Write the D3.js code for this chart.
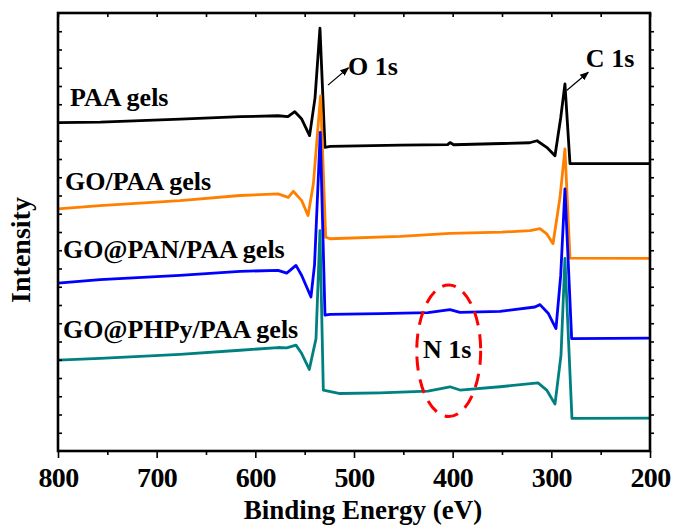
<!DOCTYPE html>
<html>
<head>
<meta charset="utf-8">
<script src="https://cdn.jsdelivr.net/npm/d3@7"></script>
<style>
  body { margin: 0; background: #fff; }
</style>
</head>
<body>
<div id="chart"></div>
<script>
// XPS survey spectra, [binding energy (eV), intensity (a.u.)]
const paaGels = [
    [800, 17.99], [757, 18.02], [676, 18.18], [615, 18.32], [577, 18.37], [567, 18.32],
    [560, 18.59], [553, 18.19], [545, 17.28], [539.5, 19.35], [534.5, 23.17], [529.4, 16.64],
    [524, 16.69], [453, 16.76], [405, 16.79], [402.7, 16.9], [399, 16.78], [350, 16.85],
    [322, 16.89], [314.5, 17.0], [304.7, 16.64], [296.3, 16.18], [290.5, 18.26], [286.2, 20.12],
    [281.1, 15.75], [200, 15.75]
]
const goPaaGels = [
    [800, 13.27], [757.4, 13.45], [676.4, 13.72], [615.5, 14.0], [577, 14.09], [566.6, 13.9],
    [561.5, 14.23], [553, 13.72], [546.6, 12.9], [541.2, 14.63], [533.9, 19.46], [528.7, 11.72],
    [524.3, 11.63], [453, 11.76], [402.7, 11.92], [350, 11.99], [321.6, 12.08], [311.5, 12.18],
    [304.7, 11.9], [298.3, 11.36], [291.2, 13.9], [286.2, 16.55], [281.1, 10.57], [200, 10.55]
]
const goPanPaaGels = [
    [800, 9.2], [757.4, 9.39], [676.4, 9.62], [615.5, 9.84], [577, 9.9], [568.2, 9.75],
    [558.8, 10.17], [553, 9.62], [543.6, 8.44], [540, 10.2], [534.2, 17.46], [529.4, 7.44],
    [524.3, 7.49], [473.6, 7.53], [425, 7.58], [402.7, 7.75], [392.6, 7.6], [352, 7.65],
    [316.6, 7.89], [311.5, 8.02], [303, 7.53], [295.3, 6.71], [290.5, 9.62], [286.2, 14.36],
    [279.4, 6.16], [200, 6.18]
]
const goPhpyPaaGels = [
    [800, 4.98], [757.4, 5.07], [676.4, 5.3], [615.5, 5.52], [577, 5.67], [568.2, 5.65],
    [558.8, 5.8], [553, 5.34], [545.3, 4.47], [538.5, 6.16], [534.5, 12.08], [531.1, 3.34],
    [514.2, 3.15], [473.6, 3.19], [425, 3.28], [402.7, 3.52], [392.6, 3.34], [352, 3.52],
    [313.5, 3.73], [304.7, 3.34], [296.3, 2.57], [290.2, 5.25], [286.2, 10.55], [279.1, 1.79],
    [200, 1.8]
]

const seriesNames = ["PAA gels", "GO/PAA gels", "GO@PAN/PAA gels", "GO@PHPy/PAA gels"]
const seriesColors = ["#000000", "#ff8000", "#0000ff", "#008080"]
// label anchor: [energy, intensity]
const seriesLabelPos = [[787.8, 18.9], [792.9, 14.3], [795, 10.6], [795, 6.2]]

const xMajorTicks = [800, 700, 600, 500, 400, 300, 200]
const xMinorTicks = [750, 650, 550, 450, 350, 250]
const yTicks = d3.range(1, 24)

// peak annotations: text, text anchor, arrow start, arrow end
const peakLabels = [
    { text: "O 1s", at: [506, 20.6], from: [526.4, 20.05], to: [505.6, 21.0] },
    { text: "C 1s", at: [265, 21.05], from: [284.5, 19.75], to: [262.6, 20.75] }
]
const n1s = { text: "N 1s", at: [430, 5.1], center: [404, 5.49], rx: 32.4, ry: 3.6 }

const width = 673, height = 529
const margin = { top: 13, right: 23, bottom: 78, left: 58 }
const serif = "'Liberation Serif', 'Times New Roman', Times, serif"

const svg = d3.select("#chart").append("svg")
    .attr("width", width)
    .attr("height", height)
    .attr("font-family", serif)
    .attr("font-weight", "bold")

const defs = svg.append("defs")
defs.append("marker")
    .attr("id", "arrow")
    .attr("viewBox", "0 0 10 10")
    .attr("refX", 9).attr("refY", 5)
    .attr("markerWidth", 9).attr("markerHeight", 9)
    .attr("markerUnits", "userSpaceOnUse")
    .attr("orient", "auto")
    .append("path")
    .attr("d", "M0,1 L10,5 L0,9 Z")
    .attr("fill", "#000")

//scale functions
const x = d3.scaleLinear()
    .domain([800, 200])
    .range([margin.left, width - margin.right])

const y = d3.scaleLinear()
    .domain([0, 24])
    .range([height - margin.bottom, margin.top])

const line = d3.line()
    .x(d => x(d[0]))
    .y(d => y(d[1]))

// spectra
const allSeries = [paaGels, goPaaGels, goPanPaaGels, goPhpyPaaGels]
svg.append("g")
    .selectAll("path")
    .data(allSeries)
    .enter()
    .append("path")
    .attr("d", line)
    .attr("fill", "none")
    .attr("stroke", (d, i) => seriesColors[i])
    .attr("stroke-width", 2.8)
    .attr("stroke-linejoin", "round")

// series labels
svg.append("g")
    .selectAll("text")
    .data(seriesNames)
    .enter()
    .append("text")
    .attr("x", (d, i) => x(seriesLabelPos[i][0]))
    .attr("y", (d, i) => y(seriesLabelPos[i][1]))
    .attr("font-size", 26)
    .attr("fill", "#000")
    .text(d => d)

// peak labels and arrows
peakLabels.forEach(p => {
    svg.append("line")
        .attr("x1", x(p.from[0])).attr("y1", y(p.from[1]))
        .attr("x2", x(p.to[0])).attr("y2", y(p.to[1]))
        .attr("stroke", "#000")
        .attr("stroke-width", 1.2)
        .attr("marker-end", "url(#arrow)")
    svg.append("text")
        .attr("x", x(p.at[0]))
        .attr("y", y(p.at[1]))
        .attr("font-size", 26)
        .text(p.text)
})

svg.append("ellipse")
    .attr("cx", x(n1s.center[0]))
    .attr("cy", y(n1s.center[1]))
    .attr("rx", Math.abs(x(n1s.center[0] + n1s.rx) - x(n1s.center[0])))
    .attr("ry", Math.abs(y(n1s.center[1] + n1s.ry) - y(n1s.center[1])))
    .attr("fill", "none")
    .attr("stroke", "#ff0000")
    .attr("stroke-width", 3)
    .attr("stroke-dasharray", "14 9")

svg.append("text")
    .attr("x", x(n1s.at[0]))
    .attr("y", y(n1s.at[1]))
    .attr("font-size", 26)
    .text(n1s.text)

// axes
const plotLeft = margin.left, plotRight = width - margin.right
const plotTop = margin.top, plotBottom = height - margin.bottom

const xAxis = d3.axisBottom(x)
    .tickValues(xMajorTicks)
    .tickSize(7)
    .tickPadding(9)
    .tickFormat(d3.format("d"))

const gx = svg.append("g")
    .attr("class", "x axis")
    .attr("transform", "translate(0," + plotBottom + ")")
    .call(xAxis)
    .attr("font-family", serif)
gx.selectAll("text")
    .attr("font-size", 28)
    .attr("letter-spacing", -0.6)
    .attr("fill", "#000")

svg.append("g")
    .attr("transform", "translate(0," + plotBottom + ")")
    .call(d3.axisBottom(x).tickValues(xMinorTicks).tickSize(4).tickFormat(""))

svg.append("g")
    .attr("transform", "translate(0," + plotTop + ")")
    .call(d3.axisTop(x).tickValues(xMajorTicks.concat(xMinorTicks)).tickSize(-4).tickFormat(""))

svg.append("g")
    .attr("transform", "translate(" + plotLeft + ",0)")
    .call(d3.axisLeft(y).tickValues(yTicks).tickSize(-4).tickFormat(""))

svg.append("g")
    .attr("transform", "translate(" + plotRight + ",0)")
    .call(d3.axisRight(y).tickValues(yTicks).tickSize(4).tickFormat(""))

svg.selectAll(".domain").remove()
svg.selectAll(".tick line")
    .attr("stroke", "#000")
    .attr("stroke-width", 1.6)

// frame
svg.append("rect")
    .attr("x", plotLeft)
    .attr("y", plotTop)
    .attr("width", plotRight - plotLeft)
    .attr("height", plotBottom - plotTop)
    .attr("fill", "none")
    .attr("stroke", "#000")
    .attr("stroke-width", 2.6)

// axis titles
svg.append("text")
    .attr("x", 363)
    .attr("y", 519)
    .attr("text-anchor", "middle")
    .attr("font-size", 27)
    .text("Binding Energy (eV)")

svg.append("text")
    .attr("transform", "translate(30,250) rotate(-90)")
    .attr("text-anchor", "middle")
    .attr("font-size", 28)
    .text("Intensity")
</script>
</body>
</html>
